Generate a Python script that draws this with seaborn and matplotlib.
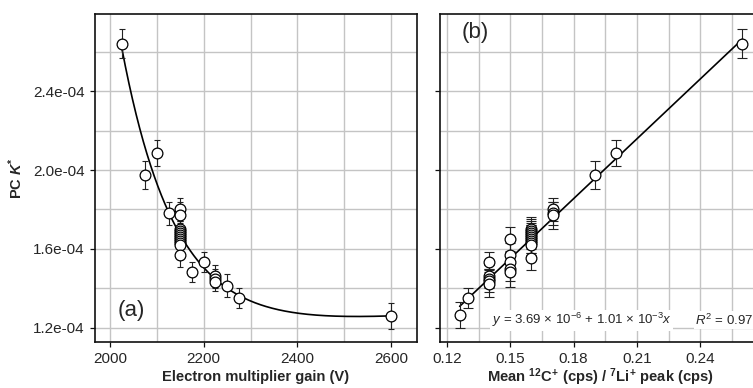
import numpy as np
import pandas as pd
import matplotlib
matplotlib.use("Agg")
import matplotlib.pyplot as plt
from matplotlib.ticker import MultipleLocator, FormatStrFormatter
import seaborn as sns

# panel (a): PC K* vs electron multiplier gain
gain = [2025, 2075, 2100, 2125, 2150, 2150, 2150, 2150, 2150, 2150, 2150, 2150,
        2150, 2150, 2150, 2150, 2175, 2200, 2225, 2225, 2225, 2250, 2275, 2600]
k_a = [2.64, 1.975, 2.085, 1.78, 1.80, 1.77, 1.70, 1.69, 1.68, 1.67, 1.66, 1.65,
       1.64, 1.63, 1.62, 1.57, 1.485, 1.535, 1.465, 1.45, 1.435, 1.415, 1.352, 1.262]
err_a = [0.075, 0.07, 0.065, 0.06, 0.06, 0.07, 0.06, 0.06, 0.06, 0.06, 0.06, 0.07,
         0.06, 0.06, 0.06, 0.06, 0.05, 0.05, 0.055, 0.05, 0.05, 0.06, 0.05, 0.065]

# panel (b): PC K* vs mean 12C+/7Li+ ratio
ratio = [0.126, 0.130, 0.140, 0.140, 0.140, 0.140, 0.140, 0.150, 0.150, 0.150,
         0.150, 0.150, 0.160, 0.160, 0.160, 0.160, 0.160, 0.160, 0.160, 0.160,
         0.160, 0.160, 0.170, 0.170, 0.170, 0.190, 0.200, 0.260]
k_b = [1.265, 1.352, 1.535, 1.465, 1.45, 1.44, 1.425, 1.65, 1.57, 1.535,
       1.50, 1.485, 1.70, 1.69, 1.68, 1.67, 1.66, 1.65, 1.64, 1.63,
       1.62, 1.555, 1.80, 1.78, 1.77, 1.975, 2.085, 2.64]
err_b = [0.065, 0.05, 0.05, 0.055, 0.05, 0.06, 0.07, 0.06, 0.06, 0.05,
         0.06, 0.08, 0.06, 0.06, 0.06, 0.06, 0.06, 0.07, 0.06, 0.06,
         0.06, 0.06, 0.06, 0.06, 0.07, 0.07, 0.065, 0.075]

intercept = 3.69e-6
slope = 1.01e-3

scale = 1e-4
df_a = pd.DataFrame({"gain": gain, "k": np.array(k_a) * scale, "err": np.array(err_a) * scale})
df_b = pd.DataFrame({"ratio": ratio, "k": np.array(k_b) * scale, "err": np.array(err_b) * scale})


def fit_exp_lin(x, y, rates):
    # k = c + d*x + a*exp(-b*(x - x0)), b picked from a grid, rest by least squares
    x = np.asarray(x, float)
    y = np.asarray(y, float)
    best = None
    for b in rates:
        A = np.column_stack([np.ones_like(x), x - x[0], np.exp(-b * (x - x[0]))])
        coef, *_ = np.linalg.lstsq(A, y, rcond=None)
        res = np.sum((A @ coef - y) ** 2)
        if best is None or res < best[0]:
            best = (res, b, coef)
    return best[1], best[2]


sns.set_style("white")
plt.rcParams["font.family"] = ["Liberation Sans", "DejaVu Sans"]
plt.rcParams["mathtext.fontset"] = "custom"
plt.rcParams["mathtext.rm"] = "Liberation Sans"
plt.rcParams["mathtext.it"] = "Liberation Sans:italic"
plt.rcParams["mathtext.bf"] = "Liberation Sans:bold"
plt.rcParams["mathtext.bfit"] = "Liberation Sans:italic:bold"

fig = plt.figure(figsize=(7.53, 3.88), dpi=100)
ax1 = fig.add_axes([95 / 753, 46 / 388, 322 / 753, 328 / 388])
ax2 = fig.add_axes([440 / 753, 46 / 388, 320 / 753, 328 / 388])

grid_col = "#c4c4c4"
for ax in (ax1, ax2):
    ax.set_ylim(1.129e-4, 2.79e-4)
    ax.yaxis.set_major_locator(MultipleLocator(0.4e-4))
    ax.yaxis.set_minor_locator(MultipleLocator(0.2e-4))
    ax.yaxis.set_major_formatter(FormatStrFormatter("%.1e"))
    ax.grid(which="both", color=grid_col, lw=1.0)
    ax.set_axisbelow(True)
    for s in ax.spines.values():
        s.set_color("#111111")
        s.set_linewidth(1.2)
    ax.tick_params(which="major", direction="out", length=3.5, width=0.9,
                   labelsize=11, pad=4, left=True, bottom=True, color="#111111")
    ax.tick_params(which="minor", length=0)

# (a)
ax1.set_xlim(1968, 2655)
ax1.xaxis.set_major_locator(MultipleLocator(200))
ax1.xaxis.set_minor_locator(MultipleLocator(100))
b_rate, coef = fit_exp_lin(df_a["gain"], df_a["k"], np.linspace(0.004, 0.03, 200))
xs = np.linspace(2025, 2600, 300)
ys = coef[0] + coef[1] * (xs - gain[0]) + coef[2] * np.exp(-b_rate * (xs - gain[0]))
fit_a = pd.DataFrame({"gain": xs, "k": ys})
sns.lineplot(data=fit_a, x="gain", y="k", color="black", lw=1.2, ax=ax1, zorder=2)
ax1.errorbar(df_a["gain"], df_a["k"], yerr=df_a["err"], fmt="none", ecolor="#222222",
             elinewidth=0.8, capsize=2, capthick=0.8, zorder=3)
sns.scatterplot(data=df_a, x="gain", y="k", marker="o", s=60, facecolor="white",
                edgecolor="black", linewidth=0.9, ax=ax1, zorder=4)
ax1.text(2017, 1.291e-4, "(a)", fontsize=16, ha="left", va="center")
ax1.set_xlabel("Electron multiplier gain (V)", fontsize=10.6, fontweight="bold")
ax1.set_ylabel(r"PC $\mathbfit{K}^{\mathbf{*}}$", fontsize=10.5, fontweight="bold", labelpad=6)

# (b)
ax2.set_xlim(0.1167, 0.2683)
ax2.xaxis.set_major_locator(MultipleLocator(0.03))
ax2.xaxis.set_minor_locator(MultipleLocator(0.015))
ax2.xaxis.set_major_formatter(FormatStrFormatter("%.2f"))
ax2.tick_params(axis="y", labelleft=False)
xr = np.array([min(ratio), max(ratio)])
fit_b = pd.DataFrame({"ratio": xr, "k": intercept + slope * xr})
sns.lineplot(data=fit_b, x="ratio", y="k", color="black", lw=1.2, ax=ax2, zorder=2)
ax2.errorbar(df_b["ratio"], df_b["k"], yerr=df_b["err"], fmt="none", ecolor="#222222",
             elinewidth=0.8, capsize=3.5, capthick=0.8, zorder=3)
sns.scatterplot(data=df_b, x="ratio", y="k", marker="o", s=60, facecolor="white",
                edgecolor="black", linewidth=0.9, ax=ax2, zorder=4)
ax2.text(0.1271, 2.694e-4, "(b)", fontsize=16, ha="left", va="center")
box = dict(facecolor="white", edgecolor="none", pad=1)
ax2.text(0.1413, 1.24e-4, r"$y$ = 3.69 × 10$^{-6}$ + 1.01 × 10$^{-3}x$",
         fontsize=9.5, ha="left", va="center", bbox=box, zorder=5)
ax2.text(0.2377, 1.24e-4, r"$R^2$ = 0.97", fontsize=9.5, ha="left", va="center",
         bbox=box, zorder=5)
ax2.set_xlabel(r"Mean $\mathbf{{}^{12}C^{+}}$ (cps) / $\mathbf{{}^{7}Li^{+}}$ peak (cps)",
               fontsize=10.6, fontweight="bold")
ax2.set_ylabel("")

# both x labels centred on the same row
for ax in (ax1, ax2):
    ax.xaxis.label.set_va("center")
    ax.xaxis.set_label_coords(0.5, -0.106)

fig.savefig("out.png", dpi=100)
